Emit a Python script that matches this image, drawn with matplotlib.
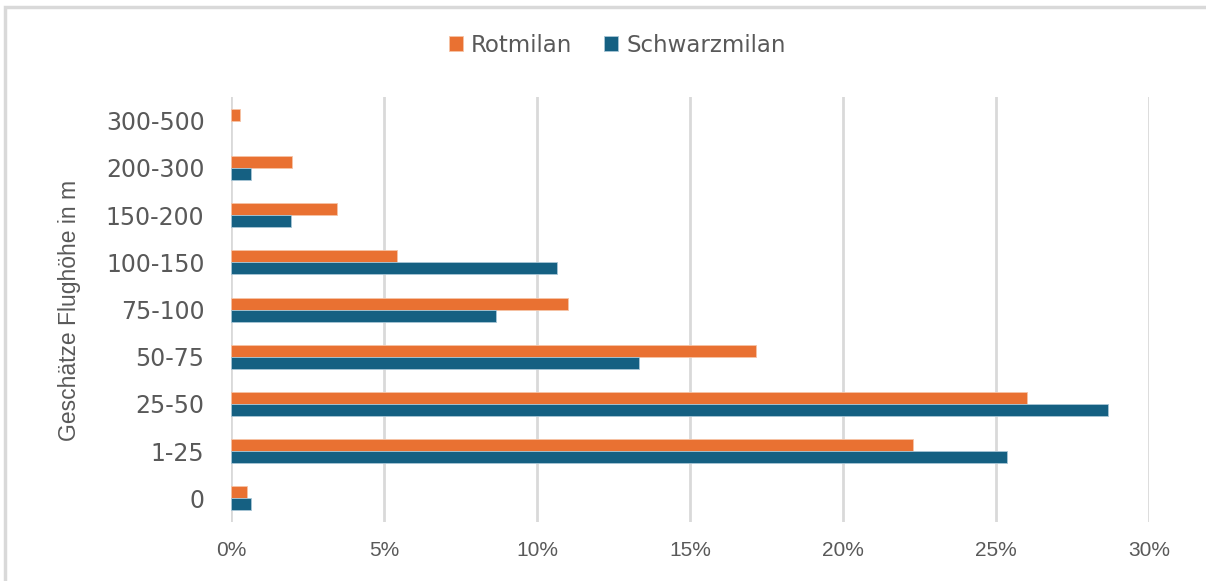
import numpy as np
import matplotlib.pyplot as plt
from matplotlib.patches import Rectangle
from matplotlib.ticker import PercentFormatter

# Flughöhen-Klassen (unten nach oben) und Anteile je Art
hoehen = ['0', '1-25', '25-50', '50-75', '75-100', '100-150', '150-200', '200-300', '300-500']
rotmilan = [0.0054, 0.223, 0.260, 0.1717, 0.110, 0.0542, 0.0348, 0.020, 0.0028]
schwarzmilan = [0.0065, 0.2535, 0.2866, 0.1335, 0.0867, 0.1065, 0.0196, 0.0065, 0.0]

orange = '#E97132'
blau = '#156082'
grau = '#595959'
schrift = ['Liberation Sans', 'DejaVu Sans']
breit = ['DejaVu Sans']

fig = plt.figure(figsize=(12.06, 5.81), dpi=100)
fig.patches.append(Rectangle((0.004, -0.01), 1.2, 0.998, transform=fig.transFigure,
                             fill=False, edgecolor='#D9D9D9', lw=2.5))
ax = fig.add_axes([0.1915, 0.1015, 0.7612, 0.7315])

y = np.arange(len(hoehen))
h = 0.254
ax.barh(y + h / 2, rotmilan, height=h, color=orange, edgecolor='#F6C3A6',
        lw=[0.6 if v > 0 else 0 for v in rotmilan], label='Rotmilan', zorder=3)
ax.barh(y - h / 2, schwarzmilan, height=h, color=blau, edgecolor='#A9C6D6',
        lw=[0.6 if v > 0 else 0 for v in schwarzmilan], label='Schwarzmilan', zorder=3)

ax.set_xlim(0, 0.30)
ax.set_ylim(-0.5, len(hoehen) - 0.5)
ax.set_xticks(np.arange(0, 0.301, 0.05))
ax.xaxis.set_major_formatter(PercentFormatter(1.0, decimals=0))
ax.set_yticks(y)
ax.set_yticklabels(hoehen, fontsize=17, color=grau, family=breit)
for lab in ax.get_xticklabels():
    lab.set_family(schrift)
    lab.set_fontsize(15)
    lab.set_color(grau)
ax.tick_params(axis='y', length=0, pad=19)
ax.tick_params(axis='x', length=0, pad=14)
ax.grid(axis='x', color='#D9D9D9', lw=2, zorder=0)
for s in ax.spines.values():
    s.set_visible(False)

fig.text(0.058, 0.465, 'Geschätze Flughöhe in m', rotation=90, ha='center', va='center',
         fontsize=16.5, color=grau, family=schrift)

leg = fig.legend(loc='center', bbox_to_anchor=(0.512, 0.922), ncol=2, frameon=False,
                 handlelength=0.6, handleheight=0.6, handletextpad=0.35, columnspacing=1.4,
                 prop={'family': breit, 'size': 16.5})
for t in leg.get_texts():
    t.set_color(grau)

fig.savefig('out.png', dpi=100)
